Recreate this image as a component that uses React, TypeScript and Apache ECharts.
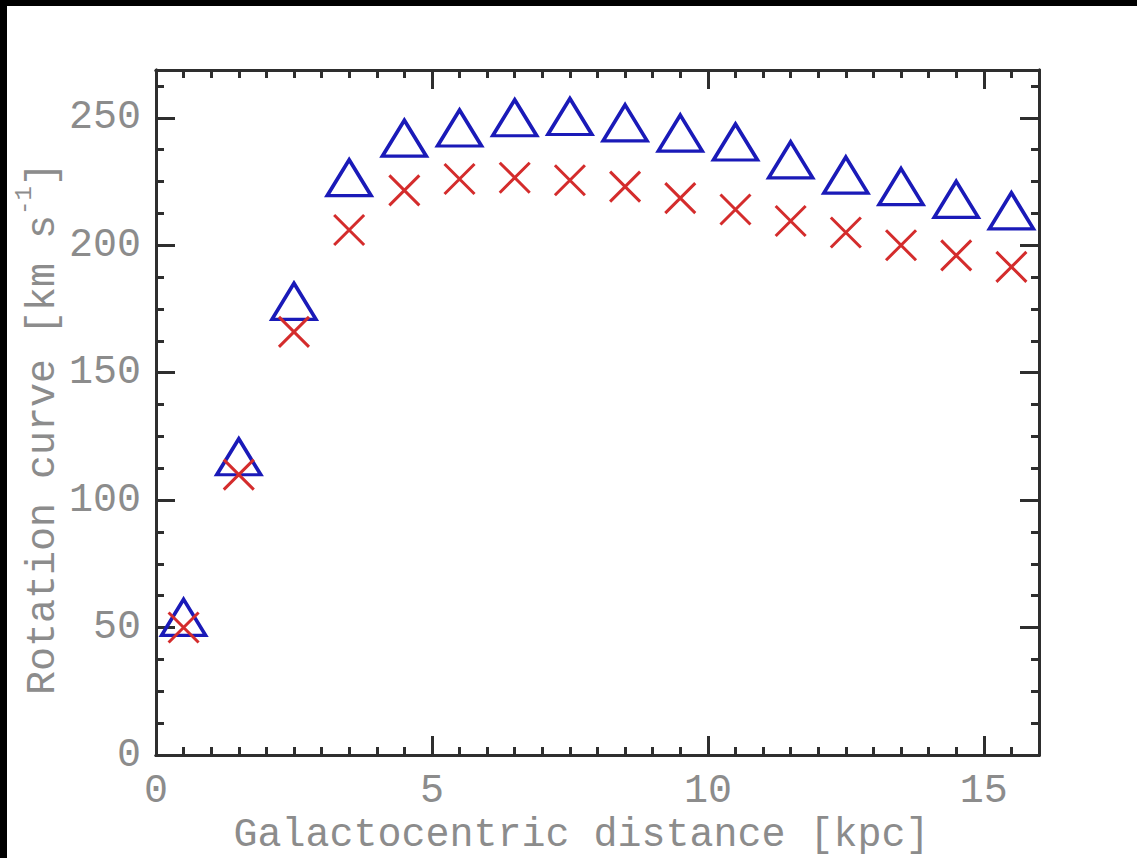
import { useEffect, useRef } from 'react';
import * as echarts from 'echarts';

const distances = [0.5, 1.5, 2.5, 3.5, 4.5, 5.5, 6.5, 7.5, 8.5, 9.5, 10.5, 11.5, 12.5, 13.5, 14.5, 15.5];
const triangleValues = [54, 117, 178, 226.5, 242, 246, 250, 250.5, 248, 244, 240.5, 233.5, 227.5, 223, 218, 213.5];
const crossValues = [50, 110, 166, 206, 221.5, 226, 226.5, 225.5, 223, 218.5, 214, 209.5, 205, 200, 196, 191.5];
const xTickLabels = [0, 5, 10, 15];
const yTickLabels = [0, 50, 100, 150, 200, 250];
const yTitleMain = 'Rotation curve [km s';
const yTitleSup = '-1';
const yTitleEnd = ']';

const FONT = "'Liberation Mono', 'DejaVu Sans Mono', monospace";
const AXIS_COLOR = '#2e2e2e';
const TEXT_COLOR = '#8c8c8c';

export default function App() {
  const ref = useRef<HTMLDivElement>(null);
  useEffect(() => {
    if (!ref.current) return;
    const chart = echarts.init(ref.current, undefined, { renderer: 'svg' });
    const lineStyle = { color: AXIS_COLOR, width: 3 };
    const mkX = (position: string, interval: number, len: number, main: boolean) => ({
      type: 'value',
      position,
      min: 0,
      max: 16,
      interval,
      axisLine: { show: true, onZero: false, lineStyle },
      axisTick: { show: true, inside: true, length: len, lineStyle },
      axisLabel: main
        ? {
            show: true,
            margin: 16,
            fontFamily: FONT,
            fontSize: 40,
            color: TEXT_COLOR,
            formatter: (v: number) => (xTickLabels.includes(v) ? String(v) : ''),
          }
        : { show: false },
      splitLine: { show: false },
      ...(main
        ? {
            name: 'Galactocentric distance [kpc]',
            nameLocation: 'middle',
            nameGap: 58,
            nameTextStyle: { fontFamily: FONT, fontSize: 40, color: TEXT_COLOR, padding: [0, 32, 0, 0] },
          }
        : {}),
    });
    const mkY = (position: string, interval: number, len: number, main: boolean) => ({
      type: 'value',
      position,
      min: 0,
      max: 268.75,
      interval,
      axisLine: { show: true, onZero: false, lineStyle },
      axisTick: { show: true, inside: true, length: len, lineStyle },
      axisLabel: main
        ? {
            show: true,
            margin: 15,
            fontFamily: FONT,
            fontSize: 40,
            color: TEXT_COLOR,
            formatter: (v: number) => (yTickLabels.includes(v) ? String(v) : ''),
          }
        : { show: false },
      splitLine: { show: false },
    });
    const titleX = 43;
    const titleStartY = 695;
    const charW = 24;
    const supW = 14.4;
    chart.setOption({
      animation: false,
      backgroundColor: '#ffffff',
      grid: { left: 156, top: 70, right: 98, bottom: 103, containLabel: false, outerBoundsMode: 'none' },
      graphic: [
        { type: 'rect', shape: { x: 0, y: 0, width: 1137, height: 6 }, style: { fill: '#000' }, silent: true },
        { type: 'rect', shape: { x: 0, y: 0, width: 7, height: 858 }, style: { fill: '#000' }, silent: true },
        {
          type: 'text',
          x: titleX,
          y: titleStartY,
          rotation: Math.PI / 2,
          silent: true,
          style: {
            text: yTitleMain,
            fontFamily: FONT,
            fontSize: 40,
            fill: TEXT_COLOR,
            align: 'left',
            verticalAlign: 'middle',
          },
        },
        {
          type: 'text',
          x: titleX - 19,
          y: titleStartY - yTitleMain.length * charW,
          rotation: Math.PI / 2,
          silent: true,
          style: {
            text: yTitleSup,
            fontFamily: FONT,
            fontSize: 24,
            fill: TEXT_COLOR,
            align: 'left',
            verticalAlign: 'middle',
          },
        },
        {
          type: 'text',
          x: titleX,
          y: titleStartY - yTitleMain.length * charW - yTitleSup.length * supW,
          rotation: Math.PI / 2,
          silent: true,
          style: {
            text: yTitleEnd,
            fontFamily: FONT,
            fontSize: 40,
            fill: TEXT_COLOR,
            align: 'left',
            verticalAlign: 'middle',
          },
        },
      ],
      xAxis: [
        mkX('bottom', 5, 19, true),
        mkX('bottom', 0.5, 8, false),
        mkX('top', 5, 19, false),
        mkX('top', 0.5, 8, false),
      ],
      yAxis: [
        mkY('left', 50, 19, true),
        mkY('left', 12.5, 8, false),
        mkY('right', 50, 19, false),
        mkY('right', 12.5, 8, false),
      ],
      series: [
        {
          type: 'scatter',
          xAxisIndex: 0,
          yAxisIndex: 0,
          symbol: 'triangle',
          symbolSize: [44, 36],
          itemStyle: { color: 'rgba(0,0,0,0)', borderColor: '#1a1ab8', borderWidth: 3.5, opacity: 1 },
          data: distances.map((d, i) => [d, triangleValues[i]]),
          z: 3,
        },
        {
          type: 'scatter',
          xAxisIndex: 0,
          yAxisIndex: 0,
          symbol: 'path://M0,0L10,10M10,0L0,10',
          symbolSize: 30,
          itemStyle: { color: '#d42c2c', borderColor: '#d42c2c', borderWidth: 3, opacity: 1 },
          data: distances.map((d, i) => [d, crossValues[i]]),
          z: 4,
        },
      ],
    });
    return () => chart.dispose();
  }, []);
  return (
    <div
      ref={ref}
      style={{ position: 'fixed', left: 0, top: 0, width: 1137, height: 858, background: '#fff' }}
    />
  );
}
